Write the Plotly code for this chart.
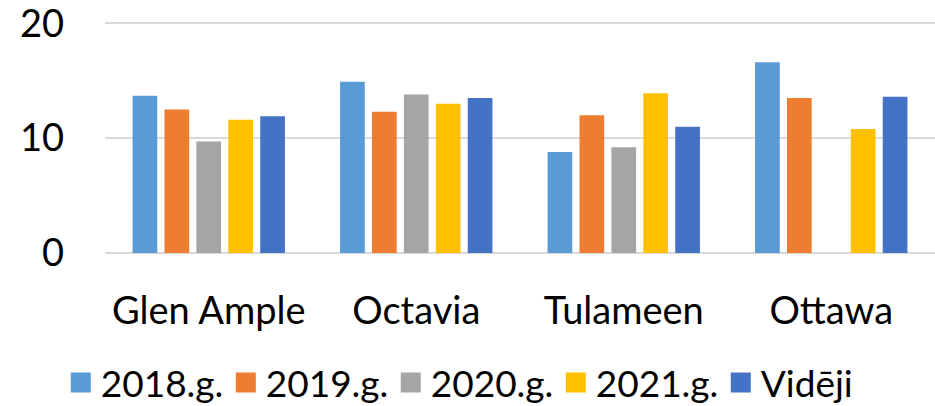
import plotly.graph_objects as go

categories = ["Glen Ample", "Octavia", "Tulameen", "Ottawa"]
series_names = ["2018.g.", "2019.g.", "2020.g.", "2021.g.", "Vidēji"]
v2018 = [13.7, 14.9, 8.8, 16.6]
v2019 = [12.5, 12.3, 12.0, 13.5]
v2020 = [9.7, 13.8, 9.2, None]
v2021 = [11.6, 13.0, 13.9, 10.8]
vavg = [11.9, 13.5, 11.0, 13.6]
colors = ["#5B9BD5", "#ED7D31", "#A5A5A5", "#FFC000", "#4472C4"]
y_ticks = [0, 10, 20]

FONT = "Lato, Calibri, Carlito, sans-serif"

fig = go.Figure()
for name, vals, col in zip(series_names, [v2018, v2019, v2020, v2021, vavg], colors):
    fig.add_trace(go.Bar(x=categories, y=vals, name=name, marker=dict(color=col, line=dict(width=0)),
                         showlegend=False))
    # legend proxy with larger square symbol
    fig.add_trace(go.Scatter(x=[None], y=[None], mode="markers", name=name,
                             marker=dict(symbol="square", size=16, color=col,
                                         line=dict(color=col, width=4))))

fig.update_layout(
    width=935, height=406,
    margin=dict(l=105, r=0, t=21.2, b=152.5, autoexpand=False),
    paper_bgcolor="white", plot_bgcolor="white",
    barmode="group", bargap=0.231, bargroupgap=0.226,
    font=dict(family=FONT, size=38, color="black"),
    legend=dict(orientation="h", x=0.065, xanchor="left", xref="container",
                y=23 / 406, yanchor="middle", yref="container",
                font=dict(size=37), itemsizing="trace", traceorder="normal", entrywidth=120),
    xaxis=dict(showline=False, ticks="", ticklabelstandoff=32, tickfont=dict(size=38), automargin=False),
    yaxis=dict(range=[0, 20.2], tickvals=y_ticks, showgrid=True, gridcolor="#D9D9D9", gridwidth=1.5,
               zeroline=True, zerolinecolor="#D9D9D9", zerolinewidth=1.5, automargin=False,
               ticks="", ticklabelstandoff=40, tickfont=dict(size=38), ticklabeloverflow="allow"),
)

fig.write_html("out.html", config={"displayModeBar": False},
               post_script="document.body.style.margin='0';")
